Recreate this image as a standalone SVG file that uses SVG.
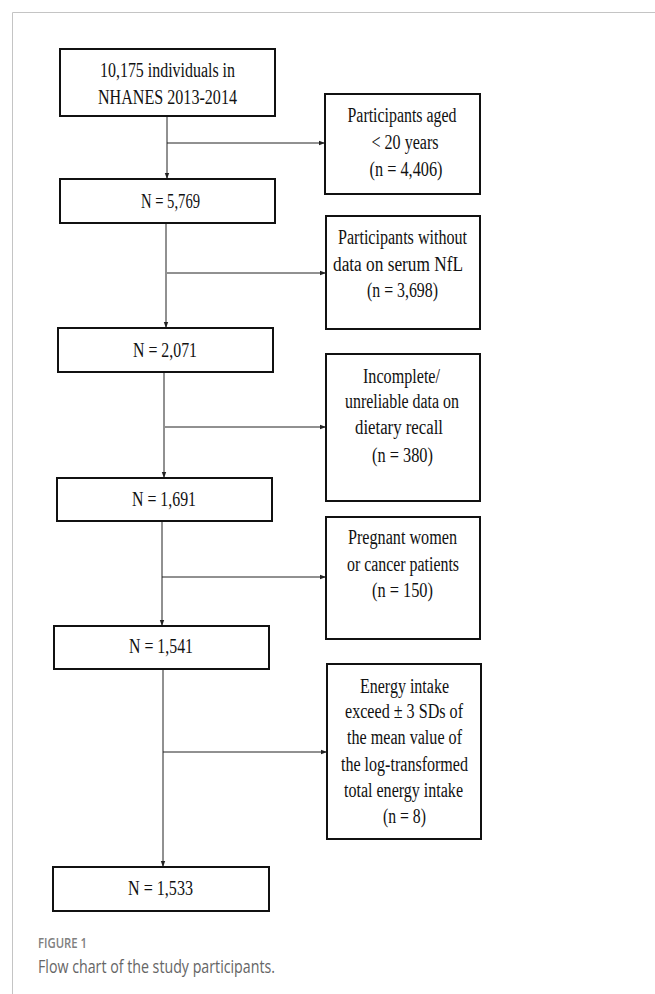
<svg xmlns="http://www.w3.org/2000/svg" width="655" height="994" viewBox="0 0 655 994">
<style>
.box{fill:#fff;stroke:#111;stroke-width:2}
.t{font-family:"Liberation Serif","Times New Roman",serif;font-size:20px;fill:#111;text-anchor:middle}
.c{fill:none;stroke:#222;stroke-width:1}
.frame{fill:none;stroke:#c4c4c4;stroke-width:1}
.fig{font-family:"Open Sans","Noto Sans",sans-serif;fill:#808080;font-size:14px;font-weight:600}
.cap{font-family:"Open Sans","Noto Sans",sans-serif;fill:#666;font-size:18px}
</style>
<defs>
<marker id="ah" viewBox="0 0 6 6" refX="6" refY="3" markerWidth="6" markerHeight="6" markerUnits="userSpaceOnUse" orient="auto">
<path d="M0,0.8 L6,3 L0,5.2 z" fill="#222"/>
</marker>
</defs>
<rect width="655" height="994" fill="#fff"/>
<path class="frame" d="M12.5,994 V12.5 H655"/>

<g id="connectors">
<path class="c" d="M167,116 V179" marker-end="url(#ah)"/>
<path class="c" d="M167,143 H325" marker-end="url(#ah)"/>
<path class="c" d="M166,223 V328" marker-end="url(#ah)"/>
<path class="c" d="M167,273 H326" marker-end="url(#ah)"/>
<path class="c" d="M164,372 V478" marker-end="url(#ah)"/>
<path class="c" d="M165,427 H326" marker-end="url(#ah)"/>
<path class="c" d="M162,521 V626" marker-end="url(#ah)"/>
<path class="c" d="M162,577 H326" marker-end="url(#ah)"/>
<path class="c" d="M163,669 V867" marker-end="url(#ah)"/>
<path class="c" d="M163,752 H327" marker-end="url(#ah)"/>
</g>

<g id="n1">
<rect class="box" x="60" y="49" width="215" height="67"/>
<text class="t" x="167.5" y="77" textLength="135" lengthAdjust="spacingAndGlyphs">10,175 individuals in</text>
<text class="t" x="167.5" y="104" textLength="139" lengthAdjust="spacingAndGlyphs">NHANES 2013-2014</text>
</g>
<g id="e1">
<rect class="box" x="325" y="94" width="155" height="100"/>
<text class="t" x="402" y="122" textLength="109" lengthAdjust="spacingAndGlyphs">Participants aged</text>
<text class="t" x="405" y="149" textLength="67" lengthAdjust="spacingAndGlyphs">&lt; 20 years</text>
<text class="t" x="406" y="176" textLength="73" lengthAdjust="spacingAndGlyphs">(n = 4,406)</text>
</g>
<g id="n2">
<rect class="box" x="60" y="179" width="215" height="44"/>
<text class="t" x="170.5" y="208" textLength="59" lengthAdjust="spacingAndGlyphs">N = 5,769</text>
</g>
<g id="e2">
<rect class="box" x="326" y="216" width="154" height="113"/>
<text class="t" x="402.5" y="244" textLength="129" lengthAdjust="spacingAndGlyphs">Participants without</text>
<text class="t" x="398" y="271" textLength="130" lengthAdjust="spacingAndGlyphs">data on serum NfL</text>
<text class="t" x="402.5" y="297" textLength="71" lengthAdjust="spacingAndGlyphs">(n = 3,698)</text>
</g>
<g id="n3">
<rect class="box" x="58" y="328" width="215" height="44"/>
<text class="t" x="165" y="357" textLength="64" lengthAdjust="spacingAndGlyphs">N = 2,071</text>
</g>
<g id="e3">
<rect class="box" x="326" y="354" width="154" height="147"/>
<text class="t" x="401.5" y="383" textLength="77" lengthAdjust="spacingAndGlyphs">Incomplete/</text>
<text class="t" x="402" y="408" textLength="114" lengthAdjust="spacingAndGlyphs">unreliable data on</text>
<text class="t" x="399" y="434" textLength="88" lengthAdjust="spacingAndGlyphs">dietary recall</text>
<text class="t" x="402.5" y="462" textLength="61" lengthAdjust="spacingAndGlyphs">(n = 380)</text>
</g>
<g id="n4">
<rect class="box" x="57" y="478" width="215" height="43"/>
<text class="t" x="164" y="506" textLength="64" lengthAdjust="spacingAndGlyphs">N = 1,691</text>
</g>
<g id="e4">
<rect class="box" x="326" y="517" width="154" height="122"/>
<text class="t" x="402.5" y="544" textLength="109" lengthAdjust="spacingAndGlyphs">Pregnant women</text>
<text class="t" x="403" y="571" textLength="112" lengthAdjust="spacingAndGlyphs">or cancer patients</text>
<text class="t" x="402.5" y="597" textLength="61" lengthAdjust="spacingAndGlyphs">(n = 150)</text>
</g>
<g id="n5">
<rect class="box" x="54" y="626" width="215" height="43"/>
<text class="t" x="161" y="653" textLength="64" lengthAdjust="spacingAndGlyphs">N = 1,541</text>
</g>
<g id="e5">
<rect class="box" x="327" y="664" width="154" height="175"/>
<text class="t" x="404.5" y="693" textLength="89" lengthAdjust="spacingAndGlyphs">Energy intake</text>
<text class="t" x="404" y="718" textLength="118" lengthAdjust="spacingAndGlyphs">exceed ± 3 SDs of</text>
<text class="t" x="404.5" y="744" textLength="115" lengthAdjust="spacingAndGlyphs">the mean value of</text>
<text class="t" x="404.5" y="771" textLength="127" lengthAdjust="spacingAndGlyphs">the log-transformed</text>
<text class="t" x="403.5" y="797" textLength="119" lengthAdjust="spacingAndGlyphs">total energy intake</text>
<text class="t" x="404.5" y="823" textLength="43" lengthAdjust="spacingAndGlyphs">(n = 8)</text>
</g>
<g id="n6">
<rect class="box" x="53" y="867" width="216" height="44"/>
<text class="t" x="160.5" y="895" textLength="65" lengthAdjust="spacingAndGlyphs">N = 1,533</text>
</g>

<g id="caption">
<text class="fig" x="38" y="948" textLength="49" lengthAdjust="spacingAndGlyphs">FIGURE 1</text>
<text class="cap" x="38" y="973" textLength="237" lengthAdjust="spacingAndGlyphs">Flow chart of the study participants.</text>
</g>
</svg>
